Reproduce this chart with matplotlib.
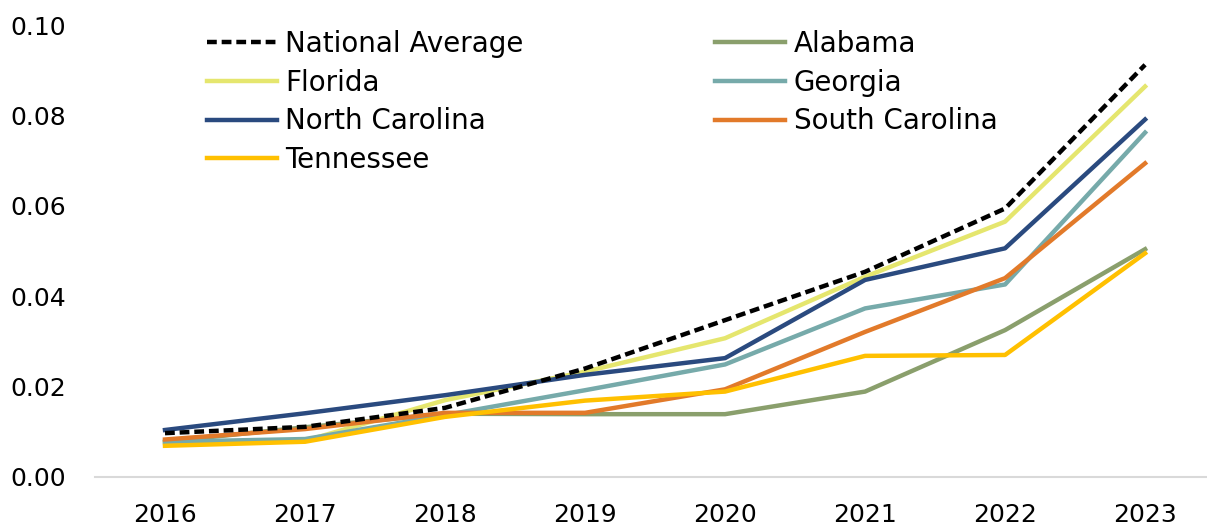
import numpy as np
import matplotlib
matplotlib.use('Agg')
import matplotlib.pyplot as plt

plt.rcParams['font.family'] = ['DejaVu Sans']

# data
years = ['2016', '2017', '2018', '2019', '2020', '2021', '2022', '2023']
national = [0.0097, 0.0111, 0.0153, 0.0240, 0.0347, 0.0454, 0.0594, 0.0912]
alabama = [0.0078, 0.0110, 0.0140, 0.0139, 0.0139, 0.0189, 0.0325, 0.0504]
florida = [0.0075, 0.0080, 0.0170, 0.0233, 0.0307, 0.0443, 0.0565, 0.0864]
georgia = [0.0078, 0.0084, 0.0137, 0.0192, 0.0249, 0.0373, 0.0426, 0.0762]
n_carolina = [0.0104, 0.0141, 0.0181, 0.0226, 0.0263, 0.0436, 0.0506, 0.0791]
s_carolina = [0.0083, 0.0106, 0.0142, 0.0142, 0.0194, 0.0321, 0.0440, 0.0694]
tennessee = [0.0069, 0.0078, 0.0133, 0.0169, 0.0189, 0.0268, 0.0270, 0.0495]

x = np.arange(len(years))

fig = plt.figure(figsize=(12.07, 5.29), dpi=100)
ax = fig.add_axes([0.0787, 0.0983, 0.928, 0.8544])

lw = 3.2
ln_nat, = ax.plot(x, national, color='black', lw=lw, ls=(0, (2.2, 1.1)), label='National Average', zorder=10)
ln_al, = ax.plot(x, alabama, color='#8A9F6C', lw=lw, label='Alabama')
ln_fl, = ax.plot(x, florida, color='#E5E66E', lw=lw, label='Florida')
ln_ga, = ax.plot(x, georgia, color='#76AAAA', lw=lw, label='Georgia')
ln_nc, = ax.plot(x, n_carolina, color='#2A4A7F', lw=lw, label='North Carolina')
ln_sc, = ax.plot(x, s_carolina, color='#E27A2A', lw=lw, label='South Carolina')
ln_tn, = ax.plot(x, tennessee, color='#FFC000', lw=lw, label='Tennessee')

ax.set_xlim(-0.5, 7.5)
ax.set_ylim(0, 0.10)
ax.set_xticks(x)
ax.set_xticklabels(years)
ax.set_yticks(np.arange(0, 0.101, 0.02))
ax.set_yticklabels(['%.2f' % v for v in np.arange(0, 0.101, 0.02)])
ax.tick_params(axis='both', length=0, labelsize=18, colors='black')
ax.tick_params(axis='y', pad=21)
ax.tick_params(axis='x', pad=19)

for s in ['top', 'right', 'left']:
    ax.spines[s].set_visible(False)
ax.spines['bottom'].set_color('#D9D9D9')
ax.spines['bottom'].set_linewidth(1.5)

# legend in two columns, filled column by column
handles = [ln_nat, ln_fl, ln_nc, ln_tn, ln_al, ln_ga, ln_sc]
fig.legend(handles, [h.get_label() for h in handles], ncol=2, frameon=False,
           fontsize=20, handlelength=2.52, handletextpad=0.3, columnspacing=6.9,
           labelspacing=0.38, loc='upper left', bbox_to_anchor=(0.1715, 0.943),
           borderpad=0, borderaxespad=0)

fig.savefig('out.png', dpi=100)
